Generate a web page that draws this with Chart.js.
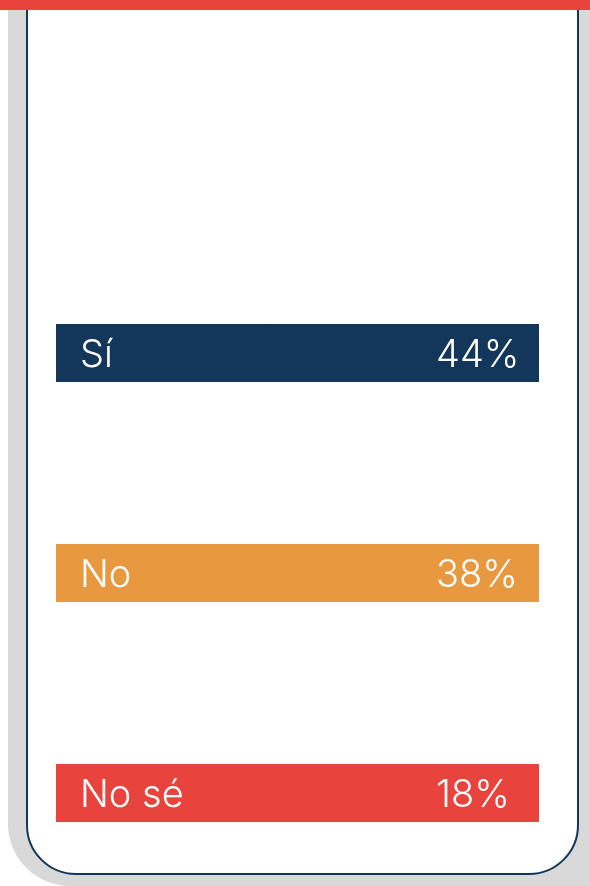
<!DOCTYPE html>
<html>
<head>
<meta charset="utf-8">
<script src="https://cdn.jsdelivr.net/npm/chart.js@4"></script>
<style>
  html, body { margin: 0; padding: 0; width: 590px; height: 886px; overflow: hidden; background: #fff; }
  .shadow { position: absolute; left: 8px; top: -40px; width: 640px; height: 926px; background: #d9d9d9; border-radius: 0 0 62px 62px; }
  .card { position: absolute; left: 26px; top: -40px; width: 549px; height: 911px; background: #fff; border: 2.5px solid #12375a; border-radius: 0 0 50px 50px; }
  .topbar { position: absolute; left: 0; top: 0; width: 590px; height: 10px; background: #e8433c; }
  .wrap { position: absolute; left: 56px; top: 322px; width: 483px; height: 502px; }
</style>
</head>
<body>
<div class="shadow"></div>
<div class="card"></div>
<div class="topbar"></div>
<div class="wrap"><canvas id="poll"></canvas></div>
<script>
// poll answers and share of respondents (%)
var answers = ['Sí', 'No', 'No sé'];
var shares = [44, 38, 18];
var track = [100, 100, 100];
var barColors = ['#12375a', '#e8983e', '#e8433c'];

var labelPlugin = {
    id: 'barLabels',
    afterDatasetsDraw: function (chart) {
        var ctx = chart.ctx;
        var meta = chart.getDatasetMeta(0);
        var x = chart.scales.x;
        ctx.save();
        ctx.fillStyle = '#ffffff';
        ctx.font = '300 38px Inter';
        ctx.textBaseline = 'alphabetic';
        ctx.textAlign = 'left';
        meta.data.forEach(function (bar, i) {
            // baseline a bit below bar centre so the caps look centred
            ctx.fillText(answers[i], x.getPixelForValue(0) + 24, bar.y + 14);
            ctx.fillText(shares[i] + '%', x.getPixelForValue(100) - 103, bar.y + 14);
        });
        ctx.restore();
    }
};

new Chart(document.getElementById('poll'), {
    type: 'bar',
    data: {
        labels: answers,
        datasets: [
            { data: shares, backgroundColor: barColors, barThickness: 58, inflateAmount: 0, clip: false, order: 1 },
            { data: track, backgroundColor: barColors, barThickness: 58, inflateAmount: 0, clip: false, order: 2 }
        ]
    },
    options: {
        indexAxis: 'y',
        responsive: true,
        maintainAspectRatio: false,
        animation: false,
        grouped: false,
        layout: { padding: { top: 31, bottom: 31, left: 0, right: 0 } },
        plugins: { legend: { display: false }, tooltip: { enabled: false } },
        scales: {
            x: { min: 0, max: 100, display: false },
            y: { offset: false, display: false }
        }
    },
    plugins: [labelPlugin]
});
</script>
</body>
</html>
